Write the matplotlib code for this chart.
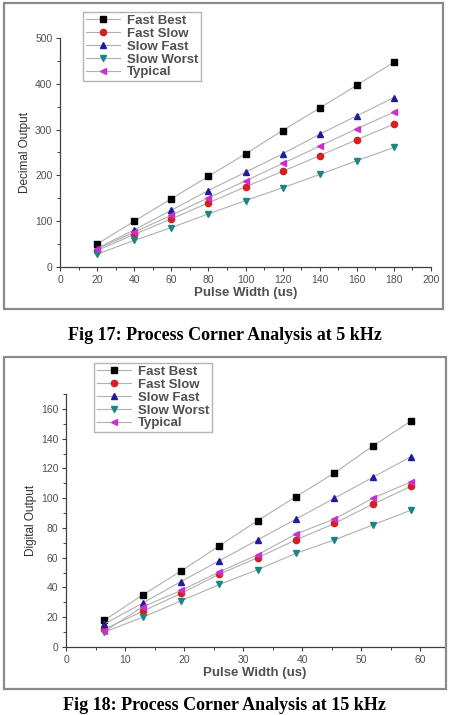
import matplotlib
matplotlib.use("Agg")
import matplotlib.pyplot as plt
from matplotlib.patches import Rectangle
from matplotlib.ticker import MultipleLocator

W, H = 449, 715

SERIES = ["Fast Best", "Fast Slow", "Slow Fast", "Slow Worst", "Typical"]

# Fig 17: 5 kHz
pulse_5k = [20, 40, 60, 80, 100, 120, 140, 160, 180]
fast_best_5k = [50, 100, 149, 198, 247, 298, 347, 397, 447]
fast_slow_5k = [36, 71, 105, 140, 175, 209, 243, 278, 312]
slow_fast_5k = [41, 81, 124, 167, 207, 247, 290, 330, 370]
slow_worst_5k = [28, 58, 86, 116, 145, 173, 202, 232, 261]
typical_5k = [39, 76, 113, 151, 188, 226, 264, 302, 338]

# Fig 18: 15 kHz
pulse_15k = [6.5, 13, 19.5, 26, 32.5, 39, 45.5, 52, 58.5]
fast_best_15k = [18, 35, 51, 68, 85, 101, 117, 135, 152]
fast_slow_15k = [12, 24, 36, 49, 60, 72, 83, 96, 108]
slow_fast_15k = [15.5, 29.5, 44, 58, 72, 86, 100, 114, 128]
slow_worst_15k = [10, 20, 31, 42, 52, 63, 72, 82, 92]
typical_15k = [10.5, 27, 38, 50.5, 62, 76, 86, 100, 111]

STYLES = {
    "Fast Best": dict(marker="s", color="black"),
    "Fast Slow": dict(marker="o", color="#d42020"),
    "Slow Fast": dict(marker="^", color="#1c1c9c"),
    "Slow Worst": dict(marker="v", color="#1a8585"),
    "Typical": dict(marker="<", color="#cc30cc"),
}
TXT = "#505050"
FONT = "Liberation Sans"


def px_rect(x0, y0, x1, y1):
    return [x0 / W, 1 - y1 / H, (x1 - x0) / W, (y1 - y0) / H]


def draw_panel(fig, rect, frame, legend_box, x, ys, xlim, ylim, xmaj, ymaj, ylabel):
    fig.patches.append(Rectangle((frame[0] / W, 1 - frame[3] / H),
                                 (frame[2] - frame[0]) / W, (frame[3] - frame[1]) / H,
                                 transform=fig.transFigure, fill=False,
                                 edgecolor="#8a8a8a", linewidth=1.6))
    ax = fig.add_axes(px_rect(*rect))
    for name, y in zip(SERIES, ys):
        st = STYLES[name]
        ax.plot(x, y, color="#b0b0b0", linewidth=0.8, marker=st["marker"],
                markerfacecolor=st["color"], markeredgecolor=st["color"],
                markersize=4.5, label=name, clip_on=False)
    ax.set_xlim(*xlim)
    ax.set_ylim(*ylim)
    ax.xaxis.set_major_locator(MultipleLocator(xmaj))
    ax.xaxis.set_minor_locator(MultipleLocator(xmaj / 2))
    ax.yaxis.set_major_locator(MultipleLocator(ymaj))
    ax.yaxis.set_minor_locator(MultipleLocator(ymaj / 2))
    for s in ("top", "right"):
        ax.spines[s].set_visible(False)
    for s in ("left", "bottom"):
        ax.spines[s].set_color("#404040")
        ax.spines[s].set_linewidth(0.9)
    ax.tick_params(which="major", direction="out", length=3, width=0.8,
                   colors="#404040", labelcolor=TXT, labelsize=7.5, pad=2.5)
    ax.tick_params(which="minor", direction="out", length=2, width=0.7, colors="#404040")
    for lab in ax.get_xticklabels() + ax.get_yticklabels():
        lab.set_fontfamily(FONT)
    ax.set_xlabel("Pulse Width (us)", fontsize=9.5, color=TXT, fontfamily=FONT,
                  fontweight="bold", labelpad=2)
    ax.set_ylabel(ylabel, fontsize=8.5, color="#303030", fontfamily=FONT, labelpad=3)

    lx0, ly0, lx1, ly1 = legend_box
    leg = ax.legend(loc="upper left", bbox_to_anchor=(lx0 / W, 1 - ly0 / H),
                    bbox_transform=fig.transFigure, frameon=True, fancybox=False,
                    prop={"family": FONT, "size": 9.5, "weight": "bold"},
                    handlelength=2.6, handletextpad=0.5, labelspacing=0.05,
                    borderpad=0.2, borderaxespad=0)
    leg.get_frame().set_edgecolor("#a0a0a0")
    leg.get_frame().set_linewidth(1.0)
    for t in leg.get_texts():
        t.set_color(TXT)
    return ax


fig = plt.figure(figsize=(W / 100, H / 100), dpi=100)

draw_panel(fig, (60, 38, 431, 267), (4, 3, 443, 309), (83, 12, 195, 79),
           pulse_5k, [fast_best_5k, fast_slow_5k, slow_fast_5k, slow_worst_5k, typical_5k],
           (0, 200), (0, 500), 20, 100, "Decimal Output")
fig.text(0.5, 1 - 335 / H, "Fig 17: Process Corner Analysis at 5 kHz", ha="center",
         va="center", fontsize=13, fontweight="bold", fontfamily="Liberation Serif")

draw_panel(fig, (66, 394, 443.6, 647), (4, 357, 446, 689), (94, 363, 211, 437),
           pulse_15k, [fast_best_15k, fast_slow_15k, slow_fast_15k, slow_worst_15k, typical_15k],
           (0, 64), (0, 170), 10, 20, "Digital Output")
fig.text(0.5, 1 / H, "Fig 18: Process Corner Analysis at 15 kHz", ha="center",
         va="bottom", fontsize=13, fontweight="bold", fontfamily="Liberation Serif")

fig.savefig("out.png", dpi=100)
